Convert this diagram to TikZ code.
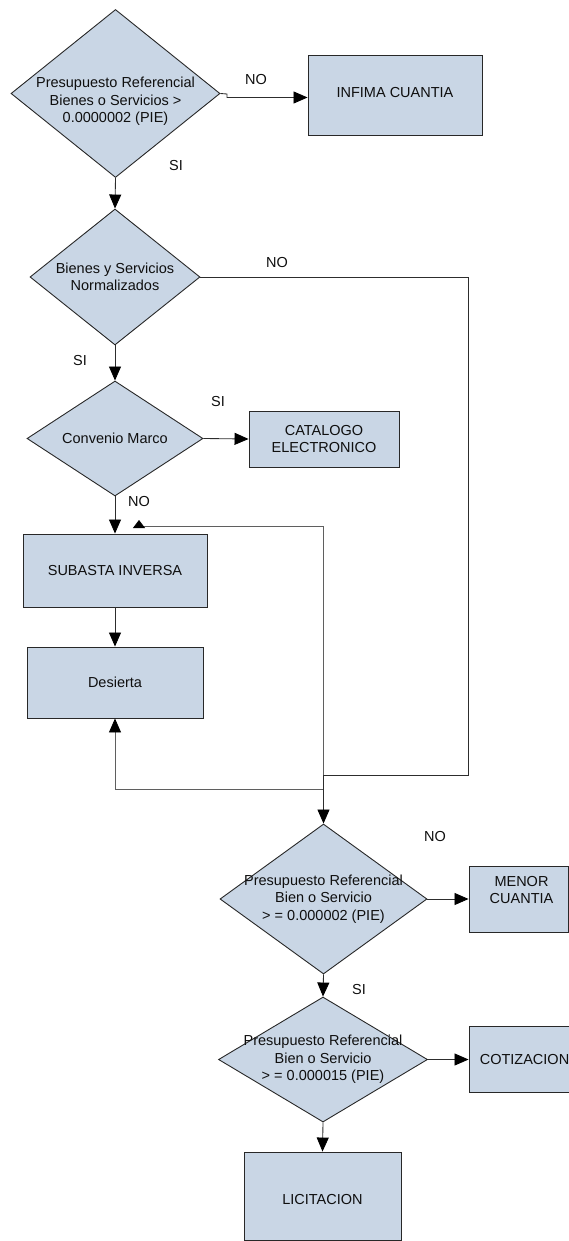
\documentclass[tikz,border=0pt]{standalone}
\usepackage{fontspec}
\setmainfont{Liberation Sans}
\usetikzlibrary{shapes.geometric,arrows.meta}

\definecolor{boxfill}{RGB}{201,214,229}
\definecolor{edge}{RGB}{40,40,40}
\definecolor{wire}{RGB}{45,45,45}
\definecolor{wirelight}{RGB}{95,95,95}
\definecolor{ink}{RGB}{15,15,15}

\tikzset{
  txt/.style={font=\fontsize{14.5}{17.5}\selectfont, text=ink, align=center, inner sep=0pt},
  decision/.style={diamond, draw=edge, fill=boxfill, line width=0.9pt, inner sep=0pt},
  process/.style={rectangle, draw=edge, fill=boxfill, line width=0.9pt, inner sep=0pt},
  link/.style={draw=wire, line width=0.85pt},
  head/.tip={Triangle[length=14pt,width=12pt,color=black]},
  shorthead/.tip={Triangle[length=8pt,width=12pt,color=black]},
  arr/.style={link, -head},
  tag/.style={txt}
}

\begin{document}
\begin{tikzpicture}[x=1pt, y=-1pt]
\useasboundingbox (0,0) rectangle (569,1241);
\clip (0,0) rectangle (569,1241);

% decisions
\node[decision, minimum width=209pt, minimum height=168pt,
  label={[txt,yshift=-8pt]center:{Presupuesto Referencial\\Bienes o Servicios >\\0.0000002 (PIE)}}]
  (d1) at (115.5,93.5) {};
\node[decision, minimum width=170pt, minimum height=136pt,
  label={[txt]center:{Bienes y Servicios\\Normalizados}}]
  (d2) at (115,277) {};
\node[decision, minimum width=176pt, minimum height=115pt,
  label={[txt]center:{Convenio Marco}}]
  (d3) at (115,438.5) {};
\node[decision, minimum width=207pt, minimum height=150pt,
  label={[txt]center:{Presupuesto Referencial\\Bien o Servicio\\> = 0.000002 (PIE)}}]
  (d4) at (323.5,899) {};
\node[decision, minimum width=209pt, minimum height=125pt,
  label={[txt]center:{Presupuesto Referencial\\Bien o Servicio\\> = 0.000015 (PIE)}}]
  (d5) at (323,1059.5) {};

% processes
\node[process, minimum width=174pt, minimum height=80pt,
  label={[txt,yshift=2pt]center:{INFIMA CUANTIA}}] (infima) at (395,95) {};
\node[process, minimum width=150pt, minimum height=56pt,
  label={[txt]center:{CATALOGO\\ELECTRONICO}}] (catalogo) at (324,439) {};
\node[process, minimum width=184pt, minimum height=73pt,
  label={[txt]center:{SUBASTA INVERSA}}] (subasta) at (115,570.5) {};
\node[process, minimum width=176pt, minimum height=71pt,
  label={[txt]center:{Desierta}}] (desierta) at (115,682.5) {};
\node[process, minimum width=99pt, minimum height=66pt,
  label={[txt,yshift=9pt,xshift=3pt]center:{MENOR\\CUANTIA}}] (menor) at (518.5,899) {};
\node[process, minimum width=111pt, minimum height=66pt,
  label={[txt]center:{COTIZACION}}] (cotizacion) at (524.5,1059) {};
\node[process, minimum width=157pt, minimum height=88pt,
  label={[txt,yshift=-3pt]center:{LICITACION}}] (licitacion) at (322.5,1196) {};

% routing points
\coordinate (j1a) at (227,94);
\coordinate (j1b) at (227,97.5);
\coordinate (r1) at (468,277);
\coordinate (r2) at (468,775);
\coordinate (m1) at (323.5,775);
\coordinate (q1) at (115,789);
\coordinate (q2) at (323.5,789);
\coordinate (q3) at (323.5,526);
\coordinate (q4) at (139,526);
\coordinate (q5) at (139,520);

% connectors
\draw[arr] (d1.east) -- (j1a) -- (j1b) -- (infima.west |- j1b);
\draw[arr] (d1.south) -- (d2.north);
\draw[arr] (d2.south) -- (d3.north);
\draw[arr] (d3.east) -- (catalogo.west);
\draw[arr] (d3.south) -- (subasta.north);
\draw[arr] (subasta.south) -- (desierta.north);
\draw[link, draw=wirelight, head-shorthead]
  (desierta.south) -- (q1) -- (q2) -- (q3) -- (q4) -- (q5);
\draw[arr] (d2.east) -- (r1) -- (r2) -- (m1) -- (d4.north);
\draw[arr] (d4.east) -- (menor.west);
\draw[arr] (d4.south) -- (d5.north);
\draw[arr] (d5.east) -- (cotizacion.west |- d5.east);
\draw[arr] (d5.south) -- (licitacion.north);

% branch tags
\node[tag] (t1) at (256,80) {NO};
\node[tag] (t2) at (176,166) {SI};
\node[tag] (t3) at (277,263) {NO};
\node[tag] (t4) at (80,361) {SI};
\node[tag] (t5) at (218,402) {SI};
\node[tag] (t6) at (139,502) {NO};
\node[tag] (t7) at (435,836) {NO};
\node[tag] (t8) at (359,989) {SI};
\end{tikzpicture}
\end{document}
